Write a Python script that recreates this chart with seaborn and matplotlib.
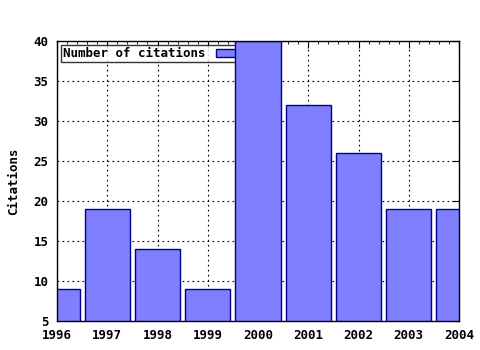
import matplotlib
matplotlib.use("Agg")
import matplotlib.pyplot as plt
import seaborn as sns
import pandas as pd
from matplotlib.ticker import MultipleLocator

years = [1996, 1997, 1998, 1999, 2000, 2001, 2002, 2003, 2004]
citations = [9, 19, 14, 9, 40, 32, 26, 19, 19]

sns.set_style("white")
plt.rcParams['font.family'] = ['DejaVu Sans Mono']
plt.rcParams['font.weight'] = 'bold'
plt.rcParams['text.color'] = 'black'
plt.rcParams['axes.labelcolor'] = 'black'
plt.rcParams['xtick.color'] = 'black'
plt.rcParams['ytick.color'] = 'black'

df = pd.DataFrame({"year": years, "citations": citations})

fig = plt.figure(figsize=(4.8, 3.5), dpi=100)
ax = fig.add_axes([57/480, 1 - 321/350, (459-57)/480, (321-41)/350])

ax.set_axisbelow(True)
ax.grid(True, which='major', color='black', linestyle=(0, (1.5, 3)), linewidth=0.8)

sns.barplot(data=df, x="year", y="citations", native_scale=True, width=0.9,
            color="#8080ff", saturation=1, edgecolor="#00008b", linewidth=1.0,
            label="Number of citations", ax=ax)

ax.set_xlim(1996, 2004)
ax.set_ylim(5, 40)
ax.xaxis.set_major_locator(MultipleLocator(1))
ax.xaxis.set_minor_locator(MultipleLocator(0.2))
ax.yaxis.set_major_locator(MultipleLocator(5))
ax.set_xticks(years)
ax.set_xticklabels([str(y) for y in years])
ax.tick_params(axis='both', which='major', direction='in', length=5, width=0.8,
               top=True, right=True, labelsize=9, colors='black', pad=6)
ax.tick_params(axis='x', which='minor', direction='in', length=2.5, width=0.6,
               top=True, bottom=True, colors='black')
for s in ax.spines.values():
    s.set_color('black')
    s.set_linewidth(1.0)
    s.set_zorder(5)
ax.set_xlabel("")
ax.set_ylabel("Citations", fontsize=9, fontweight='bold', labelpad=10)

leg = ax.legend(loc='upper left', markerfirst=False, fontsize=9, frameon=True,
                fancybox=False, borderpad=0.15, handlelength=2.8, handleheight=0.6,
                borderaxespad=0.35, handletextpad=0.8)
leg.get_frame().set_edgecolor('black')
leg.get_frame().set_linewidth(1.0)
for t in leg.get_texts():
    t.set_color('black')
leg.set_zorder(1)
for p in ax.patches:
    p.set_zorder(2)

fig.savefig("out.png", dpi=100)
